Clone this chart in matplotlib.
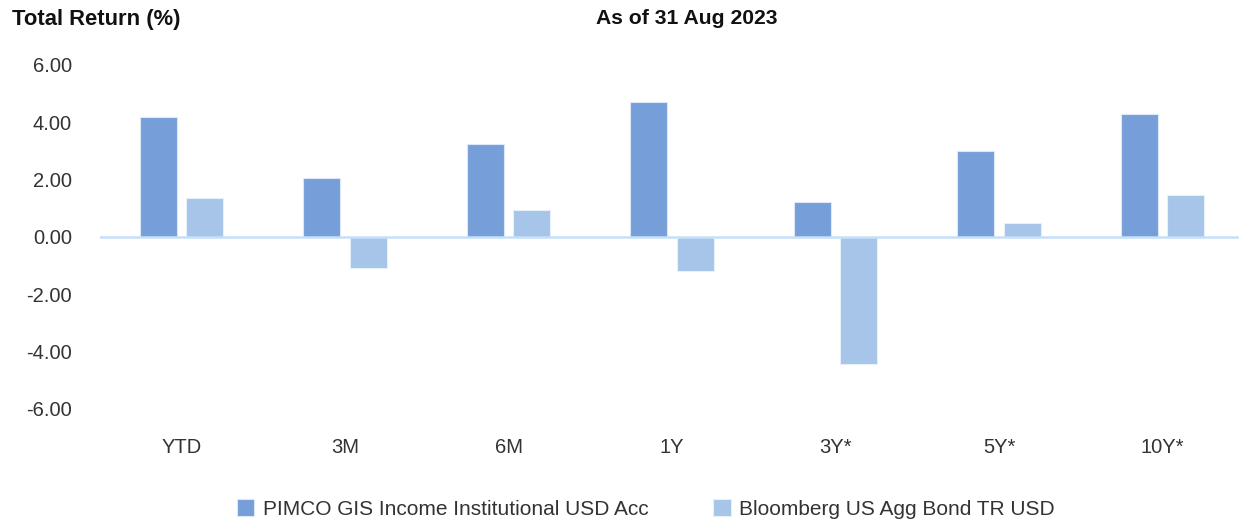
import matplotlib
matplotlib.use("Agg")
import matplotlib.pyplot as plt
import numpy as np

periods = ["YTD", "3M", "6M", "1Y", "3Y*", "5Y*", "10Y*"]
fund_returns = [4.19, 2.06, 3.25, 4.71, 1.21, 3.00, 4.30]
index_returns = [1.37, -1.07, 0.95, -1.20, -4.42, 0.49, 1.48]
fund_name = "PIMCO GIS Income Institutional USD Acc"
index_name = "Bloomberg US Agg Bond TR USD"
y_ticks = [-6, -4, -2, 0, 2, 4, 6]

plt.rcParams["font.family"] = ["Liberation Sans", "DejaVu Sans"]

fig = plt.figure(figsize=(12.39, 5.24), dpi=100)
ax = fig.add_axes([99.75 / 1239, 1 - 409 / 524, 1144.5 / 1239, 344 / 524])

x = np.arange(len(periods))
width = 0.226
ax.bar(x - 0.142, fund_returns, width, color="#769ED8", edgecolor="#DCE8F7",
       linewidth=0.8, label=fund_name, zorder=2)
ax.bar(x + 0.142, index_returns, width, color="#A6C5E9", edgecolor="#E6F0FA",
       linewidth=0.8, label=index_name, zorder=2)
ax.axhline(0, color="#C6E0F9", linewidth=1.8, zorder=3)

ax.set_xlim(-0.5, len(periods) - 0.5)
ax.set_ylim(-6, 6)
ax.set_yticks(y_ticks)
ax.set_yticklabels([f"{v:.2f}" for v in y_ticks])
ax.set_xticks(x)
ax.set_xticklabels(periods)
ax.tick_params(axis="y", length=0, pad=20, labelsize=14.5, labelcolor="#333333")
ax.tick_params(axis="x", length=0, pad=21, labelsize=14.5, labelcolor="#333333")
for spine in ax.spines.values():
    spine.set_visible(False)

fig.text(12 / 1239, 1 - 19 / 524, "Total Return (%)", fontsize=15.8,
         fontweight="bold", va="center", ha="left", color="#111111")
fig.text(687 / 1239, 1 - 19 / 524, "As of 31 Aug 2023", fontsize=15.2,
         fontweight="bold", va="center", ha="center", color="#111111")

fig.legend(loc="center", bbox_to_anchor=(645.5 / 1239, 1 - 509 / 524), ncol=2,
           frameon=False, fontsize=15, handlelength=0.85, handleheight=0.85,
           handletextpad=0.4, columnspacing=3.1, labelcolor="#333333")

fig.savefig("out.png", dpi=100)
